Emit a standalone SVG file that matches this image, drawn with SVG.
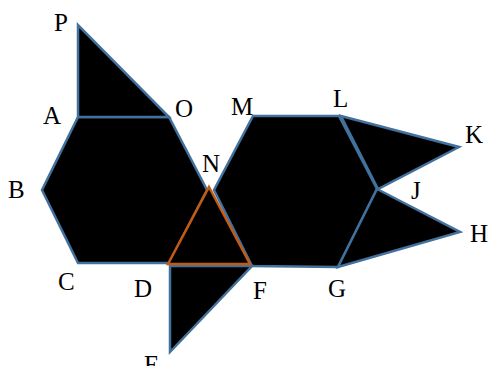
<svg xmlns="http://www.w3.org/2000/svg" width="493" height="366" viewBox="0 0 493 366">
<style>
.s{fill:#000;stroke:#41719C;stroke-width:2.5;stroke-linejoin:miter}
.o{fill:#000;stroke:#C55A11;stroke-width:2.5}
.t{font-family:'Liberation Serif','Times New Roman',serif;font-size:25px;fill:#000}
</style>
<rect width="493" height="366" fill="#fff"/>
<g id="connectors"></g>
<g id="hexLeft"><polygon class="s" points="78,117 169,117 207,190 169,263 78,263 42,190"/></g>
<g id="hexRight"><polygon class="s" points="253,116 339,116 377,189 338,267 252,266 214,190"/></g>
<g id="triPAO"><polygon class="s" points="78,25 78,117 169,117"/></g>
<g id="triLKJ"><polygon class="s" points="341,116 459,147 378,189"/></g>
<g id="triJHG"><polygon class="s" points="377,189 460,232 338,267"/></g>
<g id="triDFE"><polygon class="s" points="170,266 252,266 170,352"/></g>
<g id="triDNF"><polygon class="o" points="209,187 250,264 168,264"/></g>
<g id="labels">
<text class="t" x="54" y="31">P</text>
<text class="t" x="43" y="124">A</text>
<text class="t" x="175" y="117">O</text>
<text class="t" x="231" y="115">M</text>
<text class="t" x="202" y="172">N</text>
<text class="t" x="8" y="198">B</text>
<text class="t" x="58" y="290">C</text>
<text class="t" x="134" y="297">D</text>
<text class="t" x="253" y="299">F</text>
<text class="t" x="144" y="373">E</text>
<text class="t" x="328" y="297">G</text>
<text class="t" x="333" y="107">L</text>
<text class="t" x="465" y="143">K</text>
<text class="t" x="411" y="199">J</text>
<text class="t" x="470" y="242">H</text>
</g>
</svg>
